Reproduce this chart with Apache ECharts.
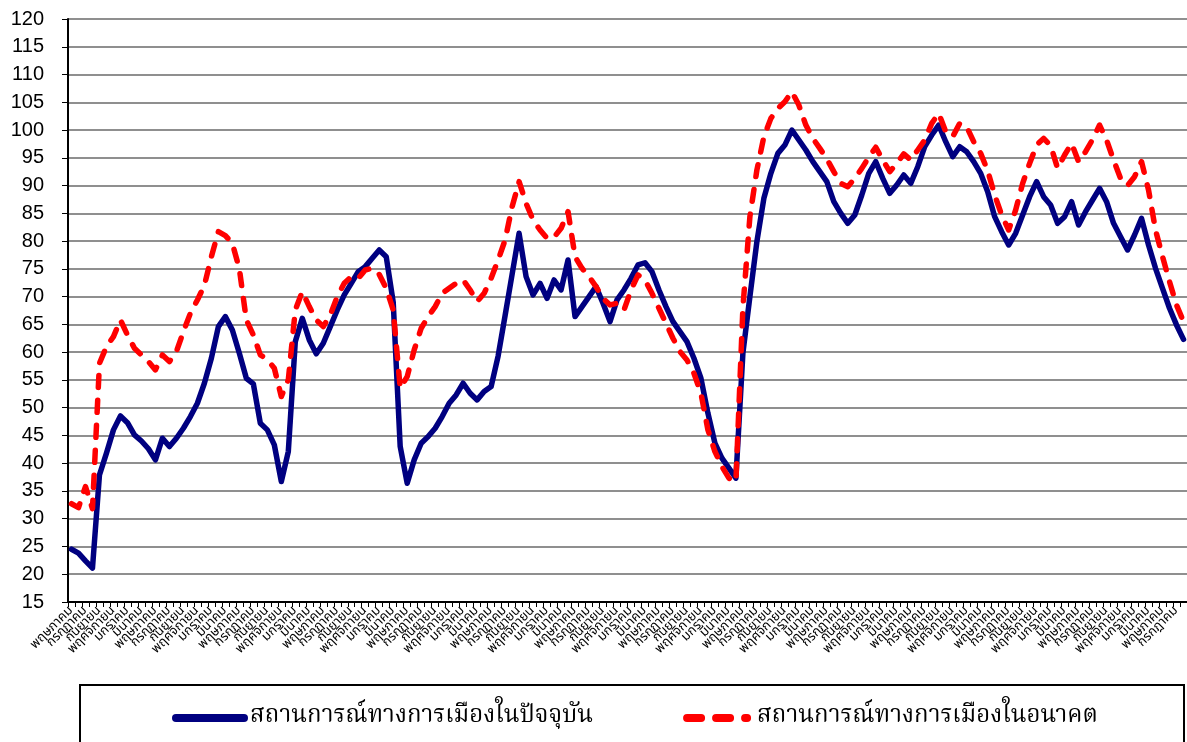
<!DOCTYPE html>
<html>
<head>
<meta charset="utf-8">
<script src="https://cdn.jsdelivr.net/npm/echarts@6/dist/echarts.min.js"></script>
<style>
html,body{margin:0;padding:0;background:#fff;}
#chart{width:1187px;height:742px;}
</style>
</head>
<body>
<div id="chart"></div>
<script>
// Thai month names (tick labels); data is monthly starting at May
var monthNames = ['มกราคม','กุมภาพันธ์','มีนาคม','เมษายน','พฤษภาคม','มิถุนายน','กรกฎาคม','สิงหาคม','กันยายน','ตุลาคม','พฤศจิกายน','ธันวาคม'];
var startMonthIndex = 4; // พฤษภาคม
var seriesNames = ['สถานการณ์ทางการเมืองในปัจจุบัน','สถานการณ์ทางการเมืองในอนาคต'];

var currentValues = [
24.5,23.8,22.4,21.1,37.9,41.8,46.0,48.5,47.3,45.1,
44.0,42.6,40.6,44.5,43.0,44.5,46.3,48.4,50.8,54.4,
58.9,64.6,66.4,64.0,59.8,55.3,54.3,47.2,46.0,43.3,
36.7,42.1,61.9,66.1,62.2,59.7,61.6,64.6,67.6,70.3,
72.4,74.5,75.4,76.9,78.4,77.2,69.0,43.0,36.4,40.6,
43.6,44.8,46.3,48.4,50.8,52.3,54.4,52.6,51.4,52.9,
53.8,59.3,66.6,74.0,81.4,73.6,70.3,72.4,69.7,73.0,
71.2,76.6,66.4,68.2,70.0,71.8,68.8,65.5,69.4,71.2,
73.3,75.7,76.1,74.5,71.2,68.2,65.5,63.7,61.9,58.9,
55.3,49.0,43.6,40.9,39.1,37.3,59.8,70.0,79.9,87.7,
92.2,95.8,97.3,100.0,98.2,96.4,94.3,92.5,90.7,87.1,
85.0,83.2,84.7,88.3,92.2,94.3,91.3,88.6,90.1,91.9,
90.4,93.4,97.0,99.1,100.9,97.9,95.2,97.0,96.1,94.3,
92.2,88.9,84.4,81.7,79.3,81.4,84.7,88.0,90.7,88.0,
86.5,83.2,84.4,87.1,82.9,85.3,87.4,89.5,87.1,83.2,
80.8,78.4,81.1,84.1,79.3,75.1,71.5,67.9,64.9,62.3
];

var futureValues = [
32.7,32.0,35.8,31.8,58.0,61.0,62.8,65.8,63.1,60.7,
59.5,58.3,56.8,59.5,58.3,60.1,63.7,67.0,69.4,72.0,
77.2,81.7,81.0,79.6,75.0,65.8,63.1,59.5,58.7,57.1,
52.0,55.0,67.6,70.9,68.2,65.8,64.6,66.7,70.0,72.4,
73.6,73.3,74.8,75.1,74.0,71.5,67.6,53.5,55.6,60.4,
64.3,66.4,68.2,70.6,71.5,72.4,73.0,71.2,69.1,70.6,
73.3,76.6,80.2,86.2,90.7,86.8,83.8,82.0,80.5,80.7,
82.3,85.3,77.2,75.1,73.6,71.8,69.7,68.5,68.8,67.6,
71.2,73.9,73.0,70.6,67.9,65.2,62.5,60.1,58.6,56.2,
52.6,46.0,42.1,39.4,37.3,36.7,68.0,84.4,92.8,98.8,
102.1,103.9,105.1,106.9,104.5,100.9,98.5,96.7,94.8,92.5,
90.4,89.8,91.3,93.1,95.1,96.9,94.6,92.5,94.0,95.7,
94.6,96.4,98.2,101.2,103.0,99.7,98.8,101.2,100.6,97.9,
95.8,92.7,88.3,84.7,82.0,85.6,90.4,94.0,97.3,98.5,
97.2,93.1,95.5,97.6,94.3,96.1,98.3,100.9,98.2,94.6,
91.3,90.0,91.6,94.3,89.2,82.0,77.2,72.7,68.5,65.5
];

var categories = [];
for (var i = 0; i < currentValues.length; i++) {
  categories.push(monthNames[(startMonthIndex + i) % 12]);
}

var thaiSerif = "'Noto Serif Thai','Noto Sans Thai','Loma','Garuda','Norasi',serif";
var thaiSans = "'Noto Sans Thai','Loma','Garuda',sans-serif";

var solidIcon = 'path://M4,0H72A4,4,0,0,1,72,8H4A4,4,0,0,1,4,0Z';
var dashIcon = 'path://M4,0H18A4,4,0,0,1,18,8H4A4,4,0,0,1,4,0Z M33,0H47A4,4,0,0,1,47,8H33A4,4,0,0,1,33,0Z M62,0H64A4,4,0,0,1,64,8H62A4,4,0,0,1,62,0Z';

var chart = echarts.init(document.getElementById('chart'), null, {renderer:'canvas'});
chart.setOption({
  animation: false,
  backgroundColor: '#fff',
  grid: {left: 68, top: 19, width: 1120, height: 583, containLabel: false},
  graphic: [{
    type: 'rect',
    shape: {x: 80, y: 685, width: 1104, height: 70},
    style: {fill: '#fff', stroke: '#000', lineWidth: 2},
    z: 0
  }],
  legend: {
    left: 167, top: 701,
    itemWidth: 76, itemHeight: 8, itemGap: 90,
    textStyle: {fontFamily: thaiSerif, fontSize: 24, color: '#000', padding:[0,0,0,-3]},
    data: [
      {name: seriesNames[0], icon: solidIcon, itemStyle: {color: '#000080'}},
      {name: seriesNames[1], icon: dashIcon, itemStyle: {color: '#ff0000'}}
    ]
  },
  xAxis: {
    type: 'category',
    data: categories,
    boundaryGap: true,
    axisLine: {show: true, lineStyle: {color: '#000', width: 2}},
    axisTick: {show: true, interval: 0, length: 5, lineStyle: {color: '#000', width: 1}},
    axisLabel: {
      interval: 0, rotate: 45, fontSize: 13, lineHeight: 8, fontFamily: thaiSans, color: '#000', margin: 7,
      showMinLabel: true, showMaxLabel: false, hideOverlap: false,
      formatter: function (value, idx) { return idx % 2 === 0 ? value : ''; }
    },
    splitLine: {show: false}
  },
  yAxis: {
    type: 'value',
    min: 15, max: 120, interval: 5,
    axisLine: {show: true, lineStyle: {color: '#000', width: 2}},
    axisTick: {show: true, length: 6, lineStyle: {color: '#000', width: 1}},
    axisLabel: {fontSize: 20, fontFamily: "'Liberation Sans', Arial, sans-serif", color: '#000', margin: 24},
    splitLine: {show: true, lineStyle: {color: '#8f8f8f', width: 2}}
  },
  series: [
    {
      name: seriesNames[0], type: 'line', data: currentValues,
      symbol: 'none', smooth: false,
      lineStyle: {color: '#000080', width: 5.5, cap: 'round', join: 'round'},
      itemStyle: {color: '#000080'}
    },
    {
      name: seriesNames[1], type: 'line', data: futureValues,
      symbol: 'none', smooth: false,
      lineStyle: {color: '#ff0000', width: 5.5, type: [12, 13], cap: 'round', join: 'round'},
      itemStyle: {color: '#ff0000'}
    }
  ]
});
</script>
</body>
</html>
